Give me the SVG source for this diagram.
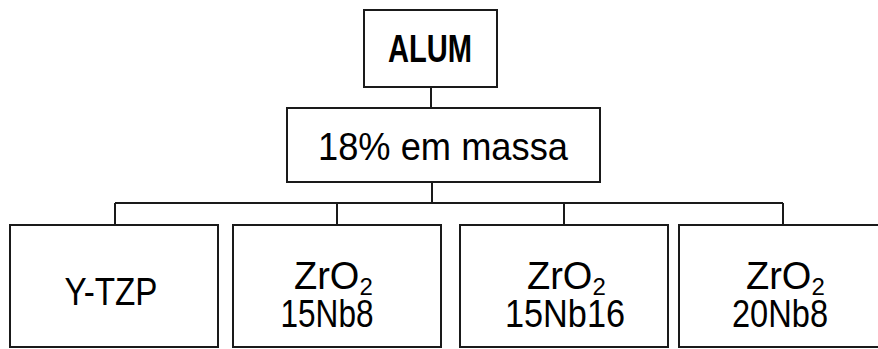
<svg xmlns="http://www.w3.org/2000/svg" width="878" height="349" viewBox="0 0 878 349">
<style>
.box{fill:#fff;stroke:#1a1a1a;stroke-width:2}
.conn{fill:none;stroke:#1a1a1a;stroke-width:2}
text{font-family:"Liberation Sans",Arial,sans-serif;fill:#000}
.big{font-size:38px}
.sub{font-size:24px}
</style>
<rect width="878" height="349" fill="#fff"/>
<g id="connectors">
<path class="conn" d="M431 87V108"/>
<path class="conn" d="M432 182V203"/>
<path class="conn" d="M115 203H783"/>
<path class="conn" d="M115 203V225M337 203V225M564 203V225M783 203V225"/>
</g>
<g id="alum">
<rect class="box" x="364" y="10" width="133" height="77"/>
<text x="430" y="62" text-anchor="middle" font-weight="bold" font-size="39" textLength="84" lengthAdjust="spacingAndGlyphs">ALUM</text>
</g>
<g id="massa">
<rect class="box" x="287" y="108" width="313" height="74"/>
<text x="443" y="160" text-anchor="middle" font-size="39" textLength="250" lengthAdjust="spacingAndGlyphs">18% em massa</text>
</g>
<g id="ytzp">
<rect class="box" x="10" y="225" width="208" height="122"/>
<text class="big" x="111" y="305" text-anchor="middle" textLength="93" lengthAdjust="spacingAndGlyphs">Y-TZP</text>
</g>
<g id="zro2-15nb8">
<rect class="box" x="233" y="225" width="208" height="122"/>
<text class="big" x="294" y="289">ZrO<tspan class="sub" dy="6">2</tspan></text>
<text class="big" x="327" y="327" text-anchor="middle" textLength="93" lengthAdjust="spacingAndGlyphs">15Nb8</text>
</g>
<g id="zro2-15nb16">
<rect class="box" x="460" y="225" width="208" height="122"/>
<text class="big" x="527" y="289">ZrO<tspan class="sub" dy="6">2</tspan></text>
<text class="big" x="565" y="327" text-anchor="middle" textLength="120" lengthAdjust="spacingAndGlyphs">15Nb16</text>
</g>
<g id="zro2-20nb8">
<rect class="box" x="679" y="225" width="210" height="122"/>
<text class="big" x="746" y="289">ZrO<tspan class="sub" dy="6">2</tspan></text>
<text class="big" x="780" y="327" text-anchor="middle" textLength="96" lengthAdjust="spacingAndGlyphs">20Nb8</text>
</g>
</svg>
